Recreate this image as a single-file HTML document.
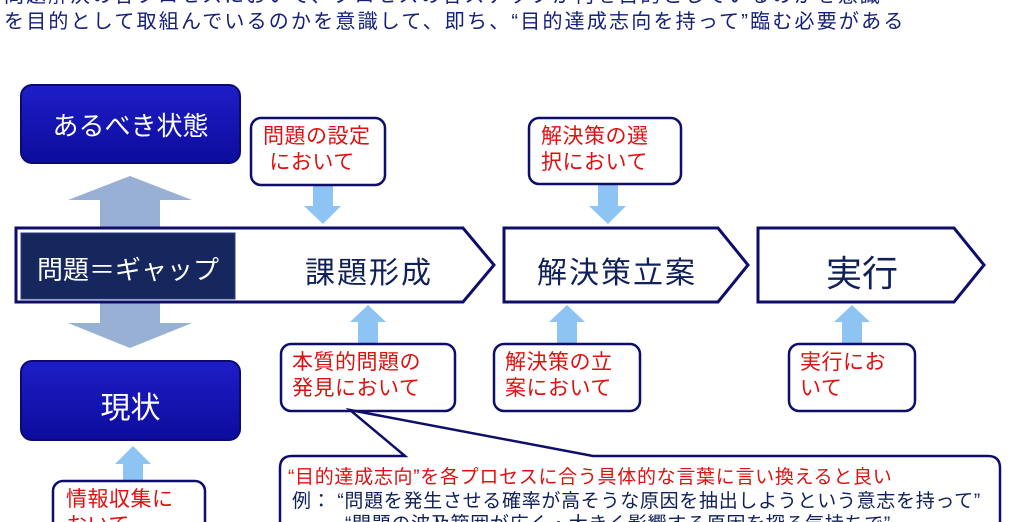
<!DOCTYPE html>
<html><head><meta charset="utf-8"><style>
html,body{margin:0;width:1012px;height:522px;overflow:hidden}
body{background:#fff;position:relative;font-family:"Liberation Sans","Noto Sans CJK JP",sans-serif}
.t{position:absolute;white-space:nowrap}
.r{font-size:21px;line-height:26px;color:#e01010;letter-spacing:0.5px}
</style></head><body>
<svg width="1012" height="522" style="position:absolute;left:0;top:0">
<defs><linearGradient id="bg" x1="0" y1="0" x2="0" y2="1"><stop offset="0" stop-color="#1e1ec8"/><stop offset="1" stop-color="#0c0c9c"/></linearGradient></defs>
<polygon points="130,176 192,200 160,200 160,228 100,228 100,200 68,200" fill="#98b0d4"/>
<polygon points="100,303 160,303 160,323 192,323 130,348 68,323 100,323" fill="#98b0d4"/>
<rect x="21" y="85" width="219" height="78" rx="11" fill="url(#bg)" stroke="#0a0a70" stroke-width="2"/>
<rect x="21" y="361" width="219" height="79" rx="11" fill="url(#bg)" stroke="#0a0a70" stroke-width="2"/>
<polygon points="16,228 463,228 494,265 463,302 16,302" fill="#fff" stroke="#0e0e6a" stroke-width="3"/>
<polygon points="504,228 718,228 748,265 718,302 504,302" fill="#fff" stroke="#0e0e6a" stroke-width="3"/>
<polygon points="758,228 954,228 984,265 954,302 758,302" fill="#fff" stroke="#0e0e6a" stroke-width="3"/>
<rect x="21" y="233" width="214" height="66" fill="#16275e" stroke="#2a3c80" stroke-width="1"/>
<g fill="#8ec4f4">
<polygon points="313,186 333,186 333,206 341,206 323,224 304,206 313,206"/>
<polygon points="598,184 618,184 618,206 626,206 608,224 589,206 598,206"/>
<polygon points="358,343 378,343 378,322 386,322 368,305 350,322 358,322"/>
<polygon points="557,343 577,343 577,322 585,322 567,305 549,322 557,322"/>
<polygon points="842,343 862,343 862,322 870,322 852,305 834,322 842,322"/>
<polygon points="123,482 143,482 143,464 151,464 133,446 115,464 123,464"/>
</g>
<g fill="#fff" stroke="#0e0e6a" stroke-width="2.5">
<rect x="251" y="118" width="134" height="67" rx="10"/>
<rect x="529" y="118" width="152" height="66" rx="10"/>
<rect x="281" y="344" width="174" height="67" rx="10"/>
<rect x="494" y="344" width="146" height="67" rx="10"/>
<rect x="789" y="344" width="126" height="67" rx="10"/>
<rect x="53" y="481" width="152" height="60" rx="10"/>
<path d="M292,456 L405,456 L350,410 L593,456 L988,456 Q1000,456 1000,468 L1000,540 L280,540 L280,468 Q280,456 292,456 Z"/>
</g>
</svg>
<div class="t" style="left:4px;top:-21px;font-size:20px;letter-spacing:2px;color:#15207a">問題解決の各プロセスにおいて、プロセスの各ステップが何を目的としているのかを意識</div>
<div class="t" style="left:4px;top:5px;font-size:20px;letter-spacing:2.2px;color:#15207a">を目的として取組んでいるのかを意識して、即ち、“目的達成志向を持って”臨む必要がある</div>
<div class="t" style="left:21px;top:106px;width:219px;text-align:center;font-size:26px;color:#fff">あるべき状態</div>
<div class="t" style="left:21px;top:383px;width:219px;text-align:center;font-size:30px;color:#fff">現状</div>
<div class="t" style="left:21px;top:250px;width:214px;text-align:center;font-size:26px;color:#fff">問題＝ギャップ</div>
<div class="t" style="left:305px;top:248px;font-size:30px;letter-spacing:2px;color:#10205a">課題形成</div>
<div class="t" style="left:504px;top:248px;width:226px;text-align:center;font-size:30px;letter-spacing:2px;color:#10205a">解決策立案</div>
<div class="t" style="left:758px;top:245px;width:208px;text-align:center;font-size:36px;color:#10205a">実行</div>
<div class="t r" style="left:263px;top:124px">問題の設定<br>&nbsp;において</div>
<div class="t r" style="left:541px;top:124px">解決策の選<br>択において</div>
<div class="t r" style="left:292px;top:350px">本質的問題の<br>発見において</div>
<div class="t r" style="left:505px;top:350px">解決策の立<br>案において</div>
<div class="t r" style="left:800px;top:350px">実行にお<br>いて</div>
<div class="t r" style="left:66px;top:487px">情報収集に<br>おいて</div>
<div class="t" style="left:288px;top:462px;font-size:19px;letter-spacing:0.7px;color:#e01010">“目的達成志向”を各プロセスに合う具体的な言葉に言い換えると良い</div>
<div class="t" style="left:292px;top:486px;font-size:19px;letter-spacing:0.7px;color:#10205a">例：&nbsp;“問題を発生させる確率が高そうな原因を抽出しようという意志を持って”</div>
<div class="t" style="left:345px;top:509px;font-size:19px;letter-spacing:0.7px;color:#10205a">“問題の波及範囲が広く・大きく影響する原因を探る気持ちで”</div>
</body></html>
